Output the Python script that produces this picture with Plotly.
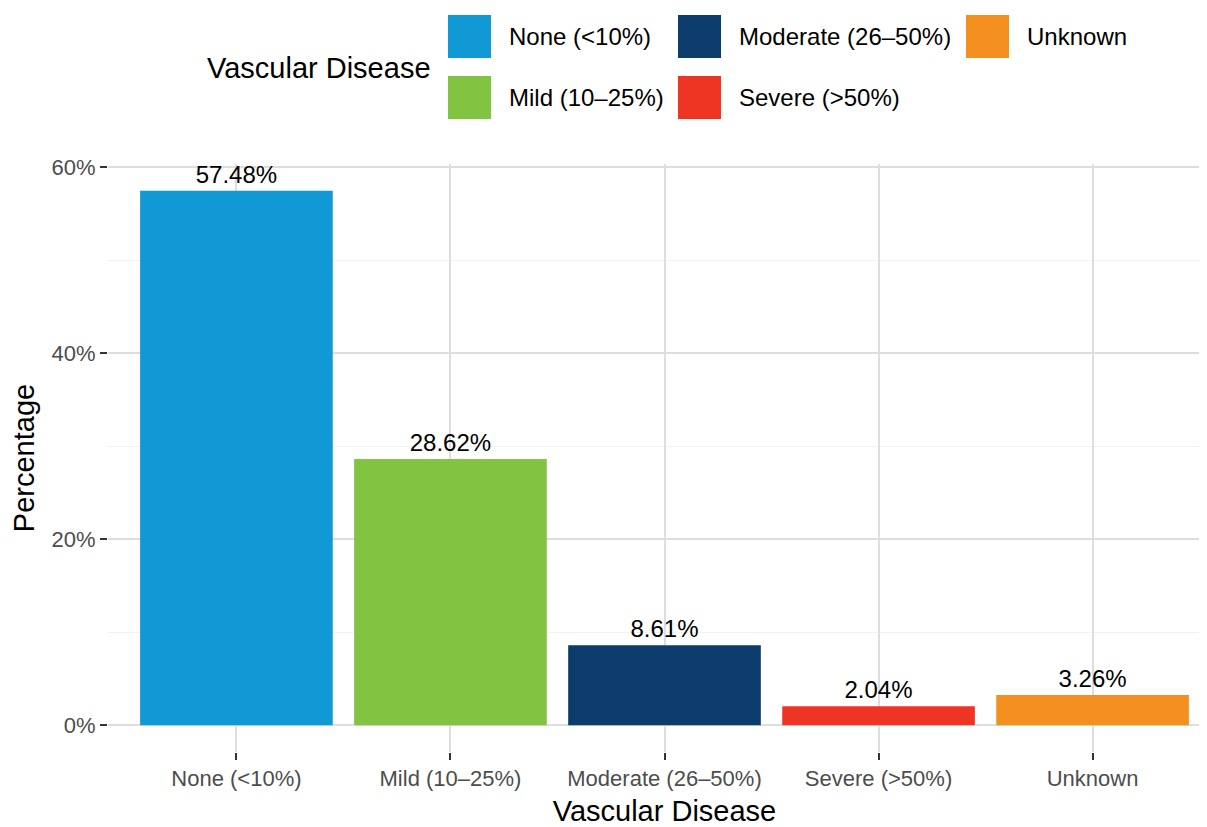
import plotly.graph_objects as go

# ── Data ──────────────────────────────────────────────────────────────────────

categories = ["None (<10%)", "Mild (10–25%)", "Moderate (26–50%)", "Severe (>50%)", "Unknown"]
percentages = [57.48, 28.62, 8.61, 2.04, 3.26]
bar_colors = ["#1199d6", "#82c341", "#0c3c6c", "#ee3524", "#f39020"]

y_ticks = [0, 20, 40, 60]
y_tick_labels = ["0%", "20%", "40%", "60%"]
y_minor = [10, 30, 50]

# ── Layout constants (pixels, in reference-image coordinates) ─────────────────

OFF = 8  # page body margin: the figure is drawn 8px in from the window edge
PANEL_RIGHT = 1221  # the panel runs slightly past the right edge of the window
W, H = PANEL_RIGHT - OFF, 827 - OFF
L, R, T, B = 108 - OFF, 0, 164 - OFF, 75
FONT = "Liberation Sans, Arial, Helvetica, sans-serif"
GRID = "#dedede"

plot_w = W - L - R
plot_h = H - T - B


def px_x(x):
    return (x - OFF - L) / plot_w


def px_y(y):
    return (H - B - (y - OFF)) / plot_h


fig = go.Figure()

fig.add_trace(go.Bar(
    x=categories,
    y=percentages,
    marker=dict(color=bar_colors, line=dict(width=0)),
    width=0.9,
    text=[f"{v:.2f}%" for v in percentages],
    textposition="outside",
    textfont=dict(family=FONT, size=24, color="#000000"),
    cliponaxis=False,
    showlegend=False,
    hoverinfo="x+y",
))

# ── Manual legend (ggplot style, filled column-wise, 2 rows) ──────────────────

col_x = [448, 678, 966]
row_y = [15, 76]
key = 43

fig.add_annotation(
    x=px_x(205), y=px_y(68), xref="paper", yref="paper",
    text="Vascular Disease", showarrow=False,
    xanchor="left", yanchor="middle",
    font=dict(family=FONT, size=29, color="#000000"),
)

for i, (cat, col) in enumerate(zip(categories, bar_colors)):
    cx = col_x[i // 2]
    cy = row_y[i % 2]
    fig.add_shape(
        type="rect", xref="paper", yref="paper",
        x0=px_x(cx), x1=px_x(cx + key),
        y0=px_y(cy), y1=px_y(cy + key),
        fillcolor=col, line=dict(width=0), layer="above",
    )
    fig.add_annotation(
        x=px_x(cx + 59), y=px_y(cy + key / 2), xref="paper", yref="paper",
        text=cat, showarrow=False,
        xanchor="left", yanchor="middle",
        font=dict(family=FONT, size=24, color="#000000"),
    )

# ── Axes & layout ─────────────────────────────────────────────────────────────

fig.update_layout(
    template="none",
    width=W, height=H,
    margin=dict(l=L, r=R, t=T, b=B, autoexpand=False),
    paper_bgcolor="white",
    plot_bgcolor="white",
    font=dict(family=FONT, color="#000000"),
    xaxis=dict(
        range=[-0.6, 4.6],
        showgrid=True, gridcolor=GRID, gridwidth=2,
        showline=False, zeroline=False,
        ticks="outside", ticklen=7, tickwidth=2, tickcolor="#333333",
        tickfont=dict(family=FONT, size=22, color="#4d4d4d"),
        title=dict(text="Vascular Disease", standoff=14,
                   font=dict(family=FONT, size=29, color="#000000")),
        automargin=False,
    ),
    yaxis=dict(
        range=[-2.874, 60.354],
        tickvals=y_ticks, ticktext=y_tick_labels,
        showgrid=True, gridcolor=GRID, gridwidth=2,
        showline=False, zeroline=False,
        ticks="outside", ticklen=7, tickwidth=2, tickcolor="#333333",
        tickfont=dict(family=FONT, size=22, color="#4d4d4d"),
        minor=dict(tickvals=y_minor, showgrid=True, gridcolor="#f2f2f2",
                   gridwidth=1, ticks=""),
        title=dict(text="Percentage", standoff=17,
                   font=dict(family=FONT, size=29, color="#000000")),
        automargin=False,
    ),
)

fig.write_html("out.html")
